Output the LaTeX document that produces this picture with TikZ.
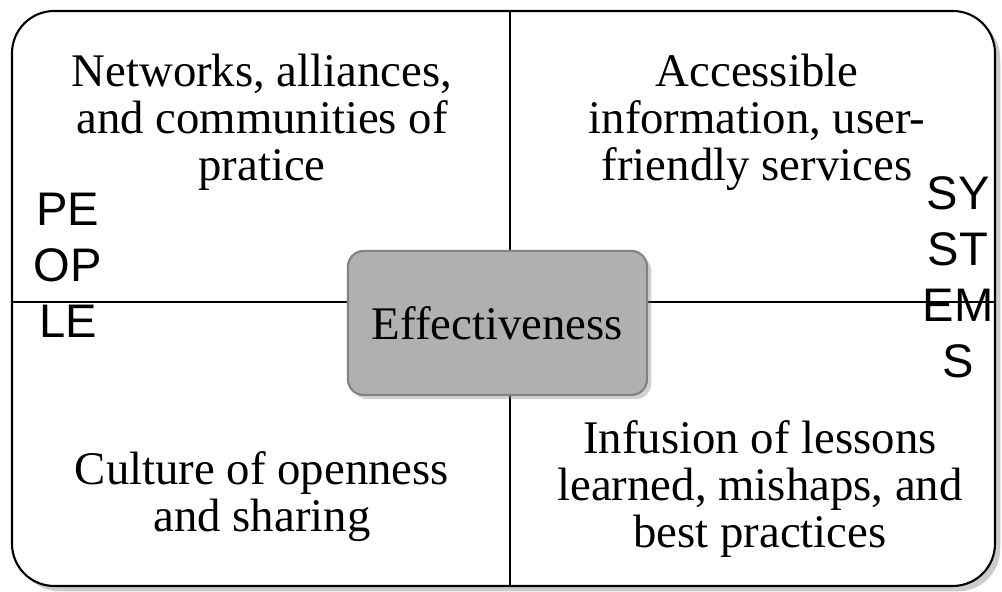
\documentclass[tikz,border=0pt]{standalone}
\usepackage{fontspec}
\setmainfont{Liberation Serif}
\newfontfamily\labelfont{Liberation Sans}
\usetikzlibrary{positioning, shadows}
\definecolor{boxgray}{RGB}{176,176,176}
\definecolor{boxedge}{RGB}{130,130,130}

\begin{document}
\begin{tikzpicture}[x=0.01cm, y=-0.01cm,
  frame/.style={draw=black, line width=0.6pt, rounded corners=12pt, fill=white,
    drop shadow={shadow xshift=1.5pt, shadow yshift=-1.5pt, opacity=0.4}},
  divider/.style={draw=black, line width=0.5pt},
  quadtext/.style={align=center, inner sep=0pt, font=\fontsize{13.3}{13.37}\selectfont},
  sidetext/.style={align=center, inner sep=0pt, font=\labelfont\fontsize{13.4}{15.9}\selectfont},
  centerbox/.style={draw=boxedge, line width=0.6pt, fill=boxgray, rounded corners=4.5pt,
    minimum width=2.99cm, minimum height=1.44cm, inner sep=0pt,
    font=\fontsize{13.3}{13.37}\selectfont,
    drop shadow={shadow xshift=1.2pt, shadow yshift=-1.2pt, opacity=0.35}}]

\useasboundingbox (0,0) rectangle (1002,592);

% outer frame
\path[frame] (12,11) rectangle (995,586);

\coordinate (top) at (510,11);
\coordinate (bottom) at (510,586);
\coordinate (left) at (12,302);
\coordinate (right) at (995,302);

\draw[divider] (top) -- (bottom);
\draw[divider] (left) -- (right);

% quadrant texts
\node[quadtext] (networks) at (262,122) {Networks, alliances,\\and communities of\\pratice};
\node[quadtext] (access) at (757,122) {Accessible\\information, user-\\friendly services};
\node[quadtext] (culture) at (262,497) {Culture of openness\\and sharing};
\node[quadtext] (infusion) at (760,489) {Infusion of lessons\\learned, mishaps, and\\best practices};

% side labels
\node[sidetext] (people) at (68,265) {PE\\OP\\LE};
\node[sidetext] (systems) at (958,277) {SY\\ST\\EM\\S};

% centre
\node[centerbox] (effect) at (497.5,323) {Effectiveness};

\end{tikzpicture}
\end{document}
